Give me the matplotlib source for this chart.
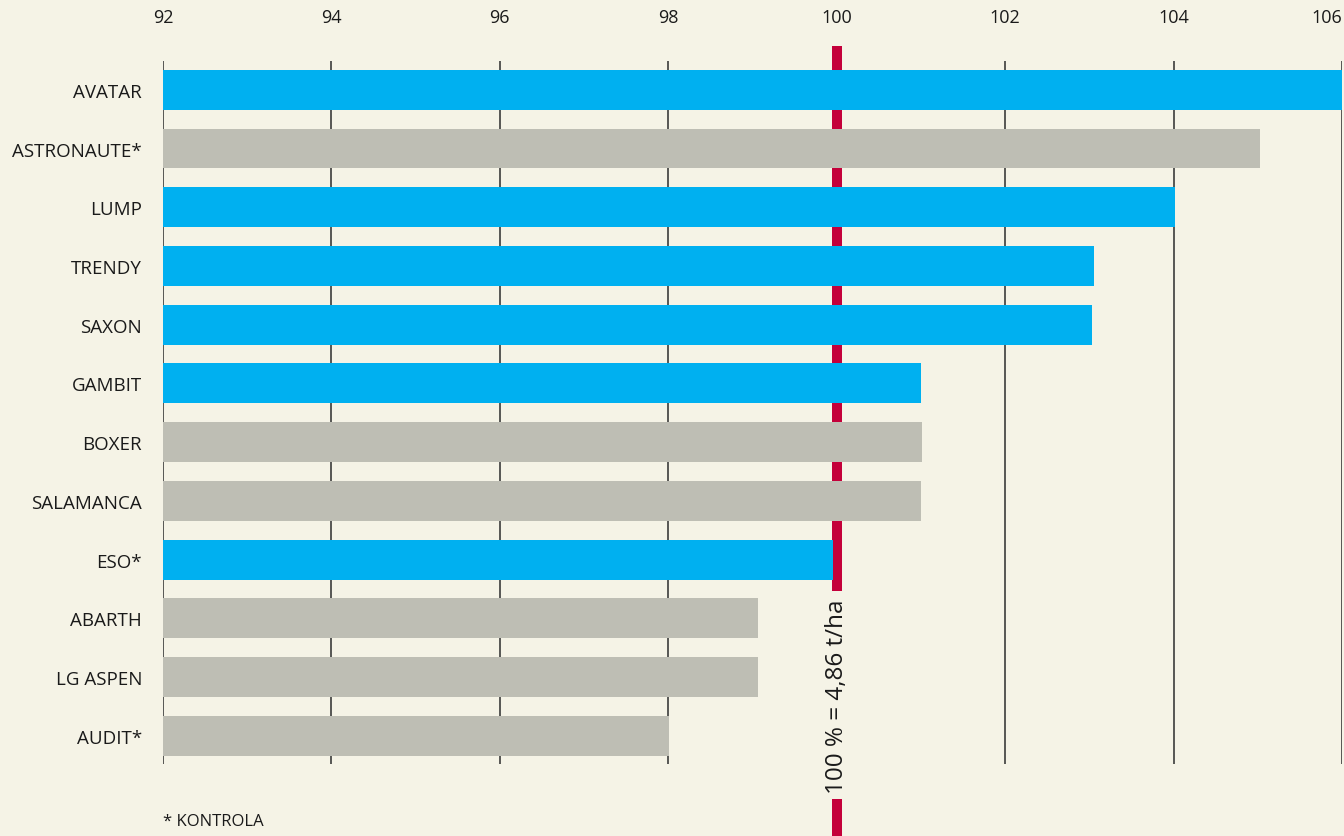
import matplotlib
matplotlib.use("Agg")
import matplotlib.pyplot as plt
import matplotlib.transforms as mtransforms

varieties = ["AVATAR", "ASTRONAUTE*", "LUMP", "TRENDY", "SAXON", "GAMBIT",
             "BOXER", "SALAMANCA", "ESO*", "ABARTH", "LG ASPEN", "AUDIT*"]
values = [106.0, 105.03, 104.02, 103.06, 103.03, 101.0,
          101.01, 101.0, 99.95, 99.06, 99.06, 98.01]
groups = ["blue", "gray", "blue", "blue", "blue", "blue",
          "gray", "gray", "blue", "gray", "gray", "gray"]
xticks = [92, 94, 96, 98, 100, 102, 104, 106]
reference_value = 100
reference_label = "100 % = 4,86 t/ha"
footnote = "* KONTROLA"

BG = "#F5F3E6"
colors = {"blue": "#00B0F0", "gray": "#BEBEB4"}
RED = "#C4003A"

plt.rcParams['font.family'] = ['Open Sans', 'DejaVu Sans']

fig = plt.figure(figsize=(13.44, 8.37), dpi=100, facecolor=BG)
ax = fig.add_axes([163/1344, 1-765/837, (1342-163)/1344, (765-62)/837])
ax.set_facecolor(BG)

base = xticks[0]
ypos = list(range(len(varieties)))
ax.barh(ypos, [v - base for v in values], left=base, height=0.68,
        color=[colors[g] for g in groups], zorder=3)

ax.set_xlim(92, 106)
ax.set_ylim(len(varieties) - 1 + 0.48, -0.49)

for t in xticks:
    if t == reference_value:
        continue
    ax.axvline(t, color="#4a4a48", lw=1.3, zorder=1)

# reference red line (behind bars), with gap for label
trans = mtransforms.blended_transform_factory(ax.transData, ax.transAxes)
top = (765 - 47) / 703
gap_top = (765 - 592) / 703
gap_bot = (765 - 800) / 703
bottom = (765 - 840) / 703
ax.plot([reference_value, reference_value], [gap_top, top], transform=trans,
        color=RED, lw=7.2, solid_capstyle="butt", zorder=2, clip_on=False)
ax.plot([reference_value, reference_value], [bottom, gap_bot], transform=trans,
        color=RED, lw=7.2, solid_capstyle="butt", zorder=2, clip_on=False)
ax.text(reference_value, (765 - 697) / 703, reference_label, transform=trans,
        rotation=90, ha="center", va="center", fontsize=17.5, color="#1a1a1a",
        clip_on=False)

ax.set_xticks(xticks)
ax.set_xticklabels([str(t) for t in xticks])
ax.xaxis.tick_top()
ax.tick_params(axis="x", length=0, pad=25, labelsize=13, colors="#1a1a1a")
xlabels = ax.get_xticklabels()
xlabels[-1].set_horizontalalignment("right")
ax.set_yticks(ypos)
ax.set_yticklabels(varieties)
ax.tick_params(axis="y", length=0, pad=15, labelsize=13.5, colors="#1a1a1a")
for s in ax.spines.values():
    s.set_visible(False)

fig.text(163/1344, 1-822/837, footnote, fontsize=12, color="#1a1a1a",
         ha="left", va="center")

fig.savefig("out.png", dpi=100, facecolor=BG)
